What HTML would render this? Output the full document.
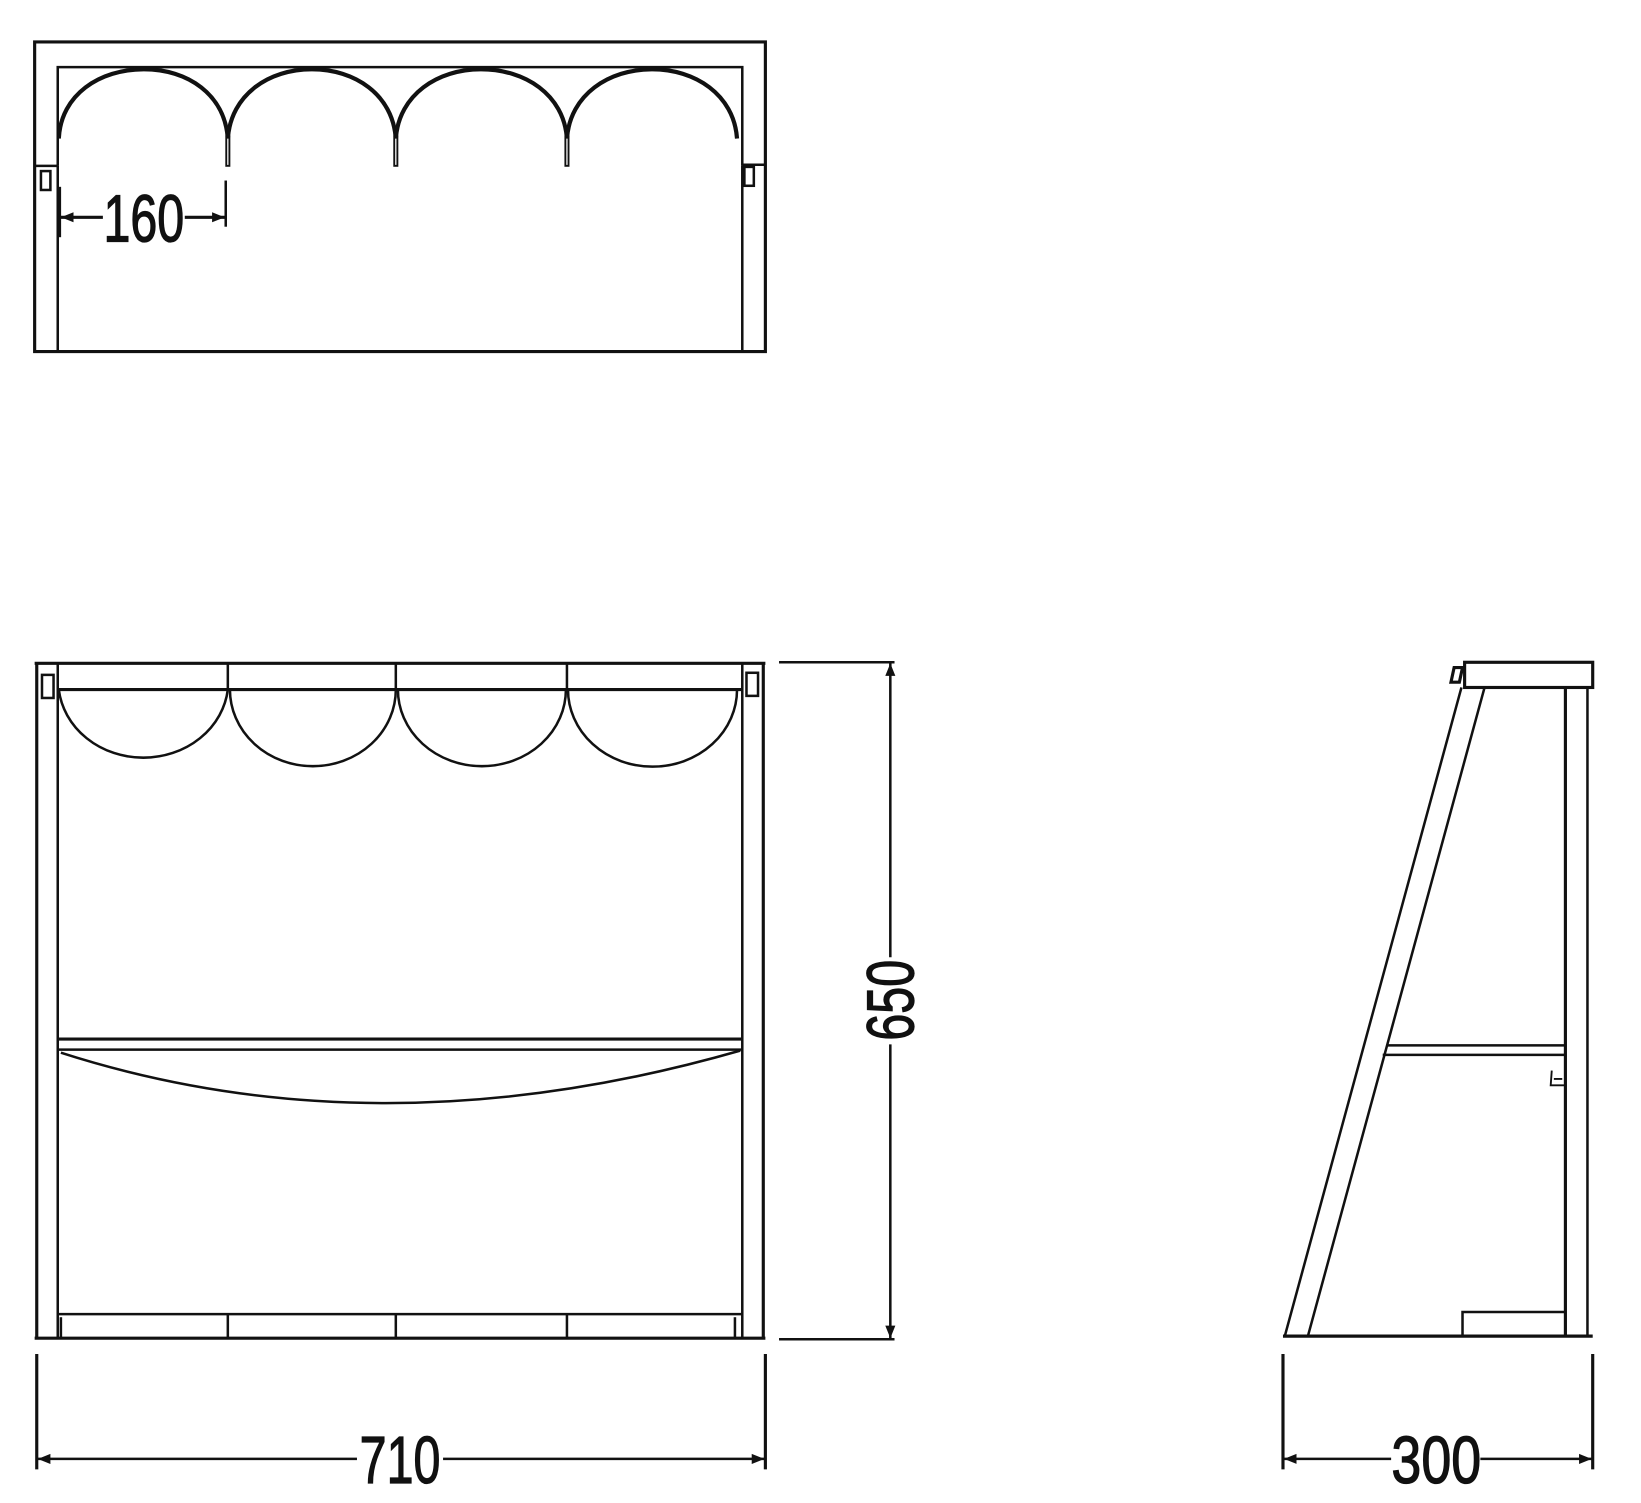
<!DOCTYPE html>
<html><head><meta charset="utf-8"><style>
html,body{margin:0;padding:0;background:#fff;}
svg{display:block;}
text{font-family:"Liberation Sans",sans-serif;fill:#111;stroke:#111;stroke-width:1.2;}
</style></head><body>
<svg width="1641" height="1503" viewBox="0 0 1563 1432" preserveAspectRatio="none" xmlns="http://www.w3.org/2000/svg">
<defs>
<marker id="ar" viewBox="0 0 10 10" refX="10" refY="5" markerWidth="12" markerHeight="12" orient="auto-start-reverse" markerUnits="userSpaceOnUse"><path d="M0,1 L10,5 L0,9 z" fill="#111"/></marker>
</defs>
<g fill="none" stroke="#111" stroke-width="2.4">
<!-- TOP VIEW -->
<path d="M33,335 V40 H729 V335 Z" stroke-width="3"/>
<path d="M55,158 V64 H707 V158"/>
<line x1="55" y1="158" x2="55" y2="335"/>
<line x1="707" y1="158" x2="707" y2="335"/>
<line x1="33" y1="158" x2="55" y2="158"/>
<line x1="707" y1="157" x2="729" y2="157"/>
<rect x="39" y="163" width="9" height="18"/>
<rect x="709" y="159" width="9" height="18"/>
<g stroke-width="4">
<path d="M56,132 C58,90 95,66 137,66 C179,66 214,90 217,132"/>
<path d="M217,132 C220,90 256,66 297,66 C338,66 374,90 377,132"/>
<path d="M377,132 C380,90 417,66 458,66 C500,66 537,90 540,132"/>
<path d="M540,132 C543,90 580,66 621,66 C662,66 699,90 702,132"/>
</g>
<rect x="215.5" y="130" width="3" height="28" stroke-width="1.8"/>
<rect x="375.5" y="130" width="3" height="28" stroke-width="1.8"/>
<rect x="538.5" y="130" width="3" height="28" stroke-width="1.8"/>
<line x1="57" y1="178" x2="57" y2="226"/>
<line x1="215" y1="172" x2="215" y2="216"/>
<line x1="58" y1="207" x2="98" y2="207" stroke-width="3" marker-start="url(#ar)"/>
<line x1="176" y1="207" x2="214" y2="207" stroke-width="3" marker-end="url(#ar)"/>

<!-- FRONT VIEW -->
<line x1="33" y1="632" x2="729" y2="632" stroke-width="3"/>
<line x1="33" y1="1275" x2="729" y2="1275" stroke-width="3"/>
<line x1="35" y1="632" x2="35" y2="1275" stroke-width="3"/>
<line x1="55" y1="632" x2="55" y2="1275"/>
<line x1="707" y1="632" x2="707" y2="1275"/>
<line x1="727" y1="632" x2="727" y2="1275" stroke-width="3"/>
<line x1="55" y1="657" x2="707" y2="657" stroke-width="3"/>
<rect x="40" y="643" width="11" height="22"/>
<rect x="711" y="641" width="11" height="22"/>
<line x1="217" y1="632" x2="217" y2="657"/>
<line x1="377" y1="632" x2="377" y2="657"/>
<line x1="540" y1="632" x2="540" y2="657"/>
<path d="M56,657 A81,73 0 0 0 217,657"/>
<path d="M219,657 A79,73 0 0 0 377,657"/>
<path d="M379,657 A80,73 0 0 0 539,657"/>
<path d="M541,657 A80,73 0 0 0 702,657"/>
<line x1="55" y1="990" x2="707" y2="990" stroke-width="3"/>
<line x1="55" y1="1000" x2="707" y2="1000"/>
<path d="M58,1003 Q360,1100 705,1001"/>
<line x1="55" y1="1252" x2="707" y2="1252"/>
<line x1="217" y1="1252" x2="217" y2="1275"/>
<line x1="377" y1="1252" x2="377" y2="1275"/>
<line x1="540" y1="1252" x2="540" y2="1275"/>
<line x1="58" y1="1255" x2="58" y2="1275"/>
<line x1="700" y1="1255" x2="700" y2="1275"/>
<!-- 650 dim -->
<line x1="742" y1="631" x2="852" y2="631"/>
<line x1="742" y1="1276" x2="852" y2="1276"/>
<line x1="848" y1="632" x2="848" y2="912" marker-start="url(#ar)"/>
<line x1="848" y1="995" x2="848" y2="1275" marker-end="url(#ar)"/>
<!-- 710 dim -->
<line x1="35" y1="1290" x2="35" y2="1400" stroke-width="3"/>
<line x1="729" y1="1290" x2="729" y2="1400" stroke-width="3"/>
<line x1="36" y1="1390" x2="340" y2="1390" marker-start="url(#ar)"/>
<line x1="422" y1="1390" x2="728" y2="1390" marker-end="url(#ar)"/>

<!-- SIDE VIEW -->
<rect x="1395" y="631" width="122" height="24" stroke-width="3"/>
<path d="M1385,636 L1393,636 L1390,650 L1382,650 Z" stroke-width="3"/>
<line x1="1392" y1="655" x2="1224" y2="1272"/>
<line x1="1414" y1="655" x2="1246" y2="1272"/>
<line x1="1491" y1="655" x2="1491" y2="1272" stroke-width="3"/>
<line x1="1512" y1="655" x2="1512" y2="1272"/>
<line x1="1322" y1="996" x2="1491" y2="996"/>
<line x1="1317" y1="1005" x2="1491" y2="1005"/>
<path d="M1478,1020 L1477,1034 L1490,1034 M1480,1028 H1488" stroke-width="1.8"/>
<path d="M1393,1272 V1250 H1491"/>
<line x1="1222" y1="1273" x2="1517" y2="1273" stroke-width="3"/>
<line x1="1222" y1="1290" x2="1222" y2="1400" stroke-width="3"/>
<line x1="1517" y1="1290" x2="1517" y2="1400" stroke-width="3"/>
<line x1="1223" y1="1390" x2="1325" y2="1390" marker-start="url(#ar)"/>
<line x1="1410" y1="1390" x2="1516" y2="1390" marker-end="url(#ar)"/>
</g>
<g font-size="64">
<text transform="translate(137,230) scale(0.72,1)" text-anchor="middle">160</text>
<text transform="translate(381,1413) scale(0.72,1)" text-anchor="middle">710</text>
<text transform="translate(1368,1413) scale(0.8,1)" text-anchor="middle">300</text>
<text transform="translate(870,953) rotate(-90) scale(0.72,1)" text-anchor="middle">650</text>
</g>
</svg>
</body></html>
